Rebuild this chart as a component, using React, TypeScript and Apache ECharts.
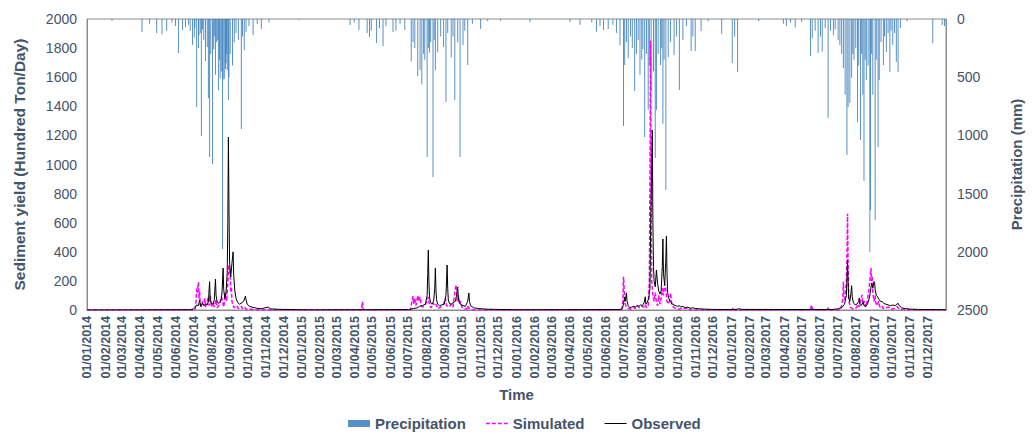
import React, { useEffect, useRef } from "react";
import * as echarts from "echarts";

// ---------- DATA ----------
const FIRST_DAY = "2014-01-01";
const LAST_DAY = "2017-12-31";

const SERIES_NAMES = ["Precipitation", "Simulated", "Observed"];
const LEFT_AXIS = { min: 0, max: 2000, interval: 200 };
const RIGHT_AXIS = { min: 0, max: 2500, interval: 500 };

// Daily precipitation (mm), days not listed are dry
const precip2014: [string, number][] = [
  ["2014-02-12", 15], ["2014-04-04", 112], ["2014-04-17", 40], ["2014-04-29", 120],
  ["2014-05-08", 130], ["2014-05-16", 100], ["2014-05-25", 30], ["2014-05-31", 60],
  ["2014-06-05", 292], ["2014-06-12", 95], ["2014-06-17", 70], ["2014-06-22", 50],
  ["2014-06-25", 100], ["2014-06-29", 223], ["2014-07-02", 160], ["2014-07-03", 80],
  ["2014-07-06", 756], ["2014-07-09", 250], ["2014-07-10", 140], ["2014-07-13", 120],
  ["2014-07-14", 1005], ["2014-07-16", 90], ["2014-07-18", 180], ["2014-07-21", 360],
  ["2014-07-24", 240], ["2014-07-26", 680], ["2014-07-28", 1185], ["2014-07-30", 300],
  ["2014-08-02", 1246], ["2014-08-04", 260], ["2014-08-05", 150], ["2014-08-07", 480],
  ["2014-08-09", 200], ["2014-08-11", 180], ["2014-08-12", 610], ["2014-08-14", 350],
  ["2014-08-15", 510], ["2014-08-17", 450], ["2014-08-19", 1976], ["2014-08-20", 520],
  ["2014-08-22", 515], ["2014-08-24", 430], ["2014-08-25", 380], ["2014-08-26", 300],
  ["2014-08-27", 440], ["2014-08-29", 696], ["2014-08-30", 500], ["2014-09-01", 300],
  ["2014-09-05", 400], ["2014-09-08", 200], ["2014-09-11", 120], ["2014-09-15", 180],
  ["2014-09-20", 945], ["2014-09-22", 150], ["2014-09-25", 266], ["2014-09-28", 110],
  ["2014-10-03", 60], ["2014-10-10", 137], ["2014-10-17", 40], ["2014-10-24", 86],
  ["2014-11-06", 30], ["2014-12-27", 10],
];

const precip2015: [string, number][] = [
  ["2015-03-24", 52], ["2015-03-31", 30], ["2015-04-08", 95], ["2015-04-22", 120],
  ["2015-04-26", 155], ["2015-04-29", 100], ["2015-05-08", 206], ["2015-05-13", 80],
  ["2015-05-19", 232], ["2015-05-24", 60], ["2015-06-05", 112], ["2015-06-10", 100],
  ["2015-06-17", 40], ["2015-06-25", 95], ["2015-07-06", 362], ["2015-07-09", 200],
  ["2015-07-12", 250], ["2015-07-17", 490], ["2015-07-21", 438], ["2015-07-24", 560],
  ["2015-07-27", 300], ["2015-07-29", 350], ["2015-08-02", 1185], ["2015-08-04", 250],
  ["2015-08-06", 290], ["2015-08-08", 200], ["2015-08-12", 1357], ["2015-08-14", 180],
  ["2015-08-16", 440], ["2015-08-20", 285], ["2015-08-25", 150], ["2015-08-30", 240],
  ["2015-09-03", 713], ["2015-09-06", 120], ["2015-09-12", 330], ["2015-09-15", 150],
  ["2015-09-18", 696], ["2015-09-23", 200], ["2015-09-27", 1185], ["2015-10-02", 223],
  ["2015-10-05", 100], ["2015-10-10", 395], ["2015-10-18", 40], ["2015-11-01", 86],
  ["2015-11-13", 20], ["2015-12-05", 15],
];

const precip2016: [string, number][] = [
  ["2016-01-24", 26], ["2016-04-01", 25], ["2016-04-18", 50], ["2016-05-08", 30],
  ["2016-05-16", 110], ["2016-05-22", 60], ["2016-05-28", 95], ["2016-06-05", 86],
  ["2016-06-13", 50], ["2016-06-19", 120], ["2016-06-25", 225], ["2016-07-01", 919],
  ["2016-07-03", 395], ["2016-07-06", 200], ["2016-07-09", 335], ["2016-07-13", 150],
  ["2016-07-16", 250], ["2016-07-20", 618], ["2016-07-23", 300], ["2016-07-26", 180],
  ["2016-07-29", 480], ["2016-08-01", 350], ["2016-08-03", 260], ["2016-08-06", 1014],
  ["2016-08-09", 300], ["2016-08-12", 782], ["2016-08-14", 400], ["2016-08-17", 610],
  ["2016-08-21", 450], ["2016-08-24", 1194], ["2016-08-26", 782], ["2016-08-29", 300],
  ["2016-09-02", 395], ["2016-09-04", 250], ["2016-09-06", 900], ["2016-09-08", 350],
  ["2016-09-11", 1470], ["2016-09-15", 326], ["2016-09-19", 200], ["2016-09-25", 309],
  ["2016-09-29", 150], ["2016-10-04", 610], ["2016-10-10", 180], ["2016-10-16", 60],
  ["2016-10-24", 275], ["2016-10-27", 150], ["2016-10-31", 275], ["2016-11-10", 103],
  ["2016-11-22", 20], ["2016-12-15", 126],
];

const precip2017: [string, number][] = [
  ["2017-01-02", 378], ["2017-01-06", 150], ["2017-01-11", 455], ["2017-02-16", 20],
  ["2017-03-30", 40], ["2017-04-04", 60], ["2017-04-11", 30], ["2017-04-19", 70],
  ["2017-04-30", 25], ["2017-05-15", 318], ["2017-05-18", 165], ["2017-05-23", 100],
  ["2017-05-28", 292], ["2017-06-01", 150], ["2017-06-04", 280], ["2017-06-09", 80],
  ["2017-06-14", 848], ["2017-06-18", 100], ["2017-06-23", 140], ["2017-06-26", 90],
  ["2017-07-01", 180], ["2017-07-04", 225], ["2017-07-07", 300], ["2017-07-10", 420],
  ["2017-07-13", 650], ["2017-07-16", 1168], ["2017-07-18", 756], ["2017-07-21", 720],
  ["2017-07-24", 505], ["2017-07-26", 300], ["2017-07-28", 350], ["2017-07-31", 250],
  ["2017-08-03", 885], ["2017-08-05", 400], ["2017-08-08", 1040], ["2017-08-10", 300],
  ["2017-08-12", 650], ["2017-08-14", 1390], ["2017-08-16", 350], ["2017-08-18", 525],
  ["2017-08-21", 400], ["2017-08-24", 2000], ["2017-08-25", 1640], ["2017-08-27", 300],
  ["2017-08-29", 650], ["2017-09-02", 1727], ["2017-09-04", 350], ["2017-09-07", 1100],
  ["2017-09-09", 525], ["2017-09-12", 200], ["2017-09-16", 395], ["2017-09-18", 150],
  ["2017-09-21", 283], ["2017-09-24", 120], ["2017-09-27", 455], ["2017-09-29", 100],
  ["2017-10-02", 223], ["2017-10-05", 120], ["2017-10-08", 370], ["2017-10-11", 455],
  ["2017-10-15", 77], ["2017-10-26", 20], ["2017-12-09", 206], ["2017-12-25", 52],
  ["2017-12-29", 60],
];

// Sediment yield (hundred ton/day), observed
const observed2014: [string, number][] = [
  ["2014-01-01", 0], ["2014-06-25", 2], ["2014-07-01", 8], ["2014-07-04", 20], ["2014-07-06", 35],
  ["2014-07-09", 30], ["2014-07-11", 68], ["2014-07-13", 25], ["2014-07-16", 45], ["2014-07-19", 30],
  ["2014-07-22", 40], ["2014-07-24", 35], ["2014-07-26", 60], ["2014-07-28", 195], ["2014-07-29", 80],
  ["2014-07-31", 45], ["2014-08-03", 40], ["2014-08-05", 70], ["2014-08-07", 212], ["2014-08-08", 100],
  ["2014-08-10", 55], ["2014-08-13", 45], ["2014-08-16", 60], ["2014-08-18", 110], ["2014-08-20", 288],
  ["2014-08-21", 140], ["2014-08-23", 80], ["2014-08-25", 120], ["2014-08-27", 260], ["2014-08-28", 600],
  ["2014-08-29", 1189], ["2014-08-30", 700], ["2014-08-31", 330], ["2014-09-02", 227], ["2014-09-04", 320],
  ["2014-09-06", 400], ["2014-09-07", 240], ["2014-09-09", 130], ["2014-09-11", 80], ["2014-09-14", 50],
  ["2014-09-17", 40], ["2014-09-21", 50], ["2014-09-24", 60], ["2014-09-27", 96], ["2014-09-28", 70],
  ["2014-09-30", 40], ["2014-10-04", 25], ["2014-10-10", 18], ["2014-10-16", 12], ["2014-10-24", 9],
  ["2014-11-05", 20], ["2014-11-08", 8], ["2014-11-20", 5], ["2014-12-15", 3], ["2015-01-15", 1],
];

const observed2015: [string, number][] = [
  ["2015-07-01", 3], ["2015-07-10", 10], ["2015-07-16", 15], ["2015-07-20", 25], ["2015-07-25", 30],
  ["2015-07-30", 40], ["2015-08-02", 100], ["2015-08-03", 250], ["2015-08-04", 412], ["2015-08-05", 200],
  ["2015-08-06", 90], ["2015-08-08", 50], ["2015-08-10", 40], ["2015-08-13", 60], ["2015-08-15", 150],
  ["2015-08-16", 289], ["2015-08-17", 140], ["2015-08-18", 70], ["2015-08-20", 40], ["2015-08-23", 30],
  ["2015-08-27", 35], ["2015-08-31", 40], ["2015-09-03", 100], ["2015-09-04", 200], ["2015-09-05", 309],
  ["2015-09-06", 150], ["2015-09-07", 70], ["2015-09-09", 45], ["2015-09-12", 40], ["2015-09-15", 50],
  ["2015-09-19", 60], ["2015-09-21", 100], ["2015-09-23", 158], ["2015-09-24", 90], ["2015-09-26", 50],
  ["2015-09-29", 35], ["2015-10-02", 30], ["2015-10-06", 25], ["2015-10-10", 60], ["2015-10-12", 117],
  ["2015-10-13", 60], ["2015-10-15", 30], ["2015-10-20", 15], ["2015-10-28", 10], ["2015-11-10", 6],
  ["2015-11-30", 4], ["2015-12-31", 2],
];

const observed2016: [string, number][] = [
  ["2016-06-25", 3], ["2016-06-29", 10], ["2016-07-01", 40], ["2016-07-03", 90], ["2016-07-04", 60],
  ["2016-07-06", 117], ["2016-07-07", 60], ["2016-07-09", 30], ["2016-07-12", 15], ["2016-07-15", 20],
  ["2016-07-18", 25], ["2016-07-21", 20], ["2016-07-24", 30], ["2016-07-27", 25], ["2016-07-30", 35],
  ["2016-08-02", 30], ["2016-08-05", 50], ["2016-08-07", 91], ["2016-08-08", 40], ["2016-08-10", 50],
  ["2016-08-13", 80], ["2016-08-15", 150], ["2016-08-16", 500], ["2016-08-17", 750], ["2016-08-18", 1000],
  ["2016-08-19", 1237], ["2016-08-20", 600], ["2016-08-21", 300], ["2016-08-22", 200], ["2016-08-24", 160],
  ["2016-08-26", 275], ["2016-08-28", 180], ["2016-08-30", 130], ["2016-09-01", 110], ["2016-09-03", 130],
  ["2016-09-05", 300], ["2016-09-06", 488], ["2016-09-07", 250], ["2016-09-09", 170], ["2016-09-11", 350],
  ["2016-09-12", 509], ["2016-09-13", 250], ["2016-09-14", 120], ["2016-09-16", 80], ["2016-09-19", 60],
  ["2016-09-22", 40], ["2016-09-25", 35], ["2016-09-28", 30], ["2016-10-01", 25], ["2016-10-04", 30],
  ["2016-10-06", 20], ["2016-10-10", 25], ["2016-10-14", 15], ["2016-10-18", 20], ["2016-10-22", 12],
  ["2016-10-27", 15], ["2016-11-01", 10], ["2016-11-08", 8], ["2016-11-15", 6], ["2016-12-01", 4],
  ["2016-12-31", 3],
];

const observed2017: [string, number][] = [
  ["2017-01-10", 5], ["2017-01-12", 8], ["2017-01-20", 4], ["2017-06-20", 3], ["2017-07-01", 8],
  ["2017-07-08", 20], ["2017-07-12", 40], ["2017-07-15", 100], ["2017-07-16", 200], ["2017-07-17", 344],
  ["2017-07-18", 200], ["2017-07-19", 80], ["2017-07-21", 60], ["2017-07-23", 120], ["2017-07-24", 167],
  ["2017-07-25", 90], ["2017-07-27", 50], ["2017-07-30", 35], ["2017-08-02", 40], ["2017-08-05", 60],
  ["2017-08-06", 82], ["2017-08-07", 40], ["2017-08-09", 30], ["2017-08-12", 50], ["2017-08-13", 57],
  ["2017-08-14", 30], ["2017-08-17", 25], ["2017-08-20", 40], ["2017-08-23", 80], ["2017-08-25", 130],
  ["2017-08-27", 185], ["2017-08-29", 150], ["2017-08-31", 196], ["2017-09-01", 190], ["2017-09-02", 140],
  ["2017-09-04", 100], ["2017-09-06", 91], ["2017-09-08", 75], ["2017-09-11", 60], ["2017-09-14", 57],
  ["2017-09-17", 45], ["2017-09-20", 40], ["2017-09-24", 35], ["2017-09-28", 30], ["2017-10-02", 34],
  ["2017-10-06", 30], ["2017-10-09", 40], ["2017-10-11", 46], ["2017-10-13", 30], ["2017-10-17", 15],
  ["2017-10-23", 10], ["2017-11-01", 6], ["2017-11-15", 4], ["2017-12-01", 3], ["2017-12-31", 2],
];

// Sediment yield (hundred ton/day), simulated
const simulated2014: [string, number][] = [
  ["2014-01-01", 0], ["2014-07-03", 0], ["2014-07-05", 60], ["2014-07-06", 150], ["2014-07-07", 120],
  ["2014-07-09", 190], ["2014-07-10", 80], ["2014-07-11", 130], ["2014-07-12", 40], ["2014-07-14", 20],
  ["2014-07-16", 60], ["2014-07-18", 30], ["2014-07-20", 80], ["2014-07-21", 20], ["2014-07-24", 60],
  ["2014-07-26", 90], ["2014-07-27", 30], ["2014-07-29", 100], ["2014-07-31", 20], ["2014-08-03", 50],
  ["2014-08-05", 20], ["2014-08-08", 70], ["2014-08-10", 15], ["2014-08-14", 40], ["2014-08-17", 90],
  ["2014-08-19", 60], ["2014-08-21", 20], ["2014-08-24", 120], ["2014-08-26", 60], ["2014-08-28", 180],
  ["2014-08-30", 310], ["2014-08-31", 250], ["2014-09-01", 280], ["2014-09-02", 120], ["2014-09-03", 160],
  ["2014-09-04", 60], ["2014-09-06", 30], ["2014-09-08", 15], ["2014-09-12", 30], ["2014-09-15", 10],
  ["2014-09-20", 25], ["2014-09-22", 10], ["2014-09-26", 20], ["2014-09-28", 5], ["2014-10-03", 8],
  ["2014-10-10", 3], ["2014-10-20", 0],
];

const simulated2015: [string, number][] = [
  ["2015-04-12", 0], ["2015-04-13", 25], ["2015-04-14", 57], ["2015-04-15", 10], ["2015-04-16", 0],
  ["2015-07-05", 0], ["2015-07-07", 60], ["2015-07-09", 95], ["2015-07-10", 40], ["2015-07-12", 80],
  ["2015-07-14", 30], ["2015-07-17", 100], ["2015-07-19", 60], ["2015-07-21", 90], ["2015-07-23", 30],
  ["2015-07-26", 20], ["2015-07-30", 40], ["2015-08-02", 60], ["2015-08-04", 90], ["2015-08-06", 30],
  ["2015-08-09", 15], ["2015-08-12", 50], ["2015-08-15", 30], ["2015-08-17", 40], ["2015-08-20", 10],
  ["2015-08-25", 20], ["2015-08-30", 40], ["2015-09-02", 80], ["2015-09-04", 30], ["2015-09-08", 20],
  ["2015-09-12", 40], ["2015-09-15", 20], ["2015-09-18", 120], ["2015-09-20", 172], ["2015-09-21", 150],
  ["2015-09-22", 60], ["2015-09-24", 100], ["2015-09-26", 40], ["2015-09-28", 60], ["2015-09-30", 20],
  ["2015-10-03", 10], ["2015-10-08", 5], ["2015-10-10", 30], ["2015-10-12", 10], ["2015-10-20", 0],
];

const simulated2016: [string, number][] = [
  ["2016-06-28", 0], ["2016-06-30", 60], ["2016-07-01", 229], ["2016-07-02", 150], ["2016-07-03", 80],
  ["2016-07-04", 40], ["2016-07-06", 20], ["2016-07-09", 10], ["2016-07-13", 5], ["2016-07-18", 20],
  ["2016-07-21", 10], ["2016-07-25", 30], ["2016-07-28", 15], ["2016-08-01", 25], ["2016-08-04", 20],
  ["2016-08-07", 40], ["2016-08-09", 15], ["2016-08-12", 30], ["2016-08-14", 200], ["2016-08-15", 900],
  ["2016-08-16", 1850], ["2016-08-17", 600], ["2016-08-18", 200], ["2016-08-20", 100], ["2016-08-22", 60],
  ["2016-08-24", 120], ["2016-08-26", 50], ["2016-08-28", 30], ["2016-08-30", 100], ["2016-09-01", 40],
  ["2016-09-03", 80], ["2016-09-05", 150], ["2016-09-07", 100], ["2016-09-09", 180], ["2016-09-11", 137],
  ["2016-09-13", 60], ["2016-09-15", 40], ["2016-09-17", 60], ["2016-09-19", 117], ["2016-09-21", 40],
  ["2016-09-24", 20], ["2016-09-28", 10], ["2016-10-03", 5], ["2016-10-10", 10], ["2016-10-20", 15],
  ["2016-10-22", 0],
];

const simulated2017: [string, number][] = [
  ["2017-01-02", 0], ["2017-01-03", 15], ["2017-01-04", 0], ["2017-05-15", 0], ["2017-05-16", 20],
  ["2017-05-17", 34], ["2017-05-18", 10], ["2017-05-19", 0], ["2017-06-13", 0], ["2017-06-14", 15],
  ["2017-06-15", 0], ["2017-07-05", 0], ["2017-07-07", 30], ["2017-07-09", 80], ["2017-07-10", 195],
  ["2017-07-11", 100], ["2017-07-13", 60], ["2017-07-15", 200], ["2017-07-16", 350], ["2017-07-17", 662],
  ["2017-07-18", 300], ["2017-07-19", 100], ["2017-07-20", 50], ["2017-07-22", 20], ["2017-07-25", 10],
  ["2017-07-28", 5], ["2017-08-01", 15], ["2017-08-04", 40], ["2017-08-06", 20], ["2017-08-09", 80],
  ["2017-08-11", 103], ["2017-08-12", 40], ["2017-08-15", 60], ["2017-08-17", 20], ["2017-08-20", 70],
  ["2017-08-22", 130], ["2017-08-24", 200], ["2017-08-26", 288], ["2017-08-27", 200], ["2017-08-28", 229],
  ["2017-08-29", 120], ["2017-08-31", 60], ["2017-09-02", 100], ["2017-09-03", 50], ["2017-09-05", 30],
  ["2017-09-08", 60], ["2017-09-10", 20], ["2017-09-13", 30], ["2017-09-16", 10], ["2017-09-20", 15],
  ["2017-09-25", 20], ["2017-09-29", 5], ["2017-10-05", 10], ["2017-10-09", 25], ["2017-10-11", 15],
  ["2017-10-15", 5], ["2017-10-25", 0], ["2017-12-31", 0],
];

// ---------- HELPERS ----------
function fmt(iso: string): string {
  const [y, m, d] = iso.split("-");
  return `${d}/${m}/${y}`;
}

function buildDays(first: string, last: string): string[] {
  const out: string[] = [];
  const [y0, m0, d0] = first.split("-").map(Number);
  const [y1, m1, d1] = last.split("-").map(Number);
  const end = Date.UTC(y1, m1 - 1, d1);
  for (let t = Date.UTC(y0, m0 - 1, d0); t <= end; t += 86400000) {
    const dt = new Date(t);
    const dd = String(dt.getUTCDate()).padStart(2, "0");
    const mm = String(dt.getUTCMonth() + 1).padStart(2, "0");
    out.push(`${dd}/${mm}/${dt.getUTCFullYear()}`);
  }
  return out;
}

const toPairs = (arr: [string, number][]) => arr.map(([d, v]) => [fmt(d), v]);

const FONT = "'Liberation Sans', Arial, sans-serif";
const TEXT_COLOR = "#44546A";
const AXIS_COLOR = "#8C8C8C";

const DASH_ICON = "path://M0,0h4v1.6h-4zM6,0h4v1.6h-4zM12,0h4v1.6h-4zM18,0h4v1.6h-4z";
const SOLID_ICON = "path://M0,0h22v1h-22z";

export default function App() {
  const ref = useRef<HTMLDivElement>(null);

  useEffect(() => {
    if (!ref.current) return;
    const chart = echarts.init(ref.current, undefined, { renderer: "svg" });
    const days = buildDays(FIRST_DAY, LAST_DAY);
    const precip = toPairs([...precip2014, ...precip2015, ...precip2016, ...precip2017]);
    const observed = toPairs([...observed2014, ...observed2015, ...observed2016, ...observed2017]);
    const simulated = toPairs([...simulated2014, ...simulated2015, ...simulated2016, ...simulated2017]);

    chart.setOption({
      animation: false,
      backgroundColor: "#ffffff",
      textStyle: { fontFamily: FONT },
      grid: {
        left: 87,
        right: 80,
        top: 19,
        bottom: 124,
        show: true,
        borderColor: AXIS_COLOR,
        borderWidth: 1,
        containLabel: false,
      },
      legend: {
        left: 343,
        top: 411,
        itemWidth: 22,
        itemHeight: 7,
        itemGap: 20,
        textStyle: { fontFamily: FONT, fontSize: 15, fontWeight: "bold", color: TEXT_COLOR },
        data: [
          { name: SERIES_NAMES[0], icon: "rect" },
          { name: SERIES_NAMES[1], icon: DASH_ICON },
          { name: SERIES_NAMES[2], icon: SOLID_ICON },
        ],
      },
      xAxis: {
        type: "category",
        data: days,
        boundaryGap: true,
        name: "Time",
        nameLocation: "middle",
        nameGap: 77,
        nameTextStyle: { fontFamily: FONT, fontSize: 15, fontWeight: "bold", color: TEXT_COLOR },
        axisLine: { show: true, lineStyle: { color: AXIS_COLOR, width: 1 } },
        axisTick: { show: false },
        axisLabel: {
          interval: (_i: number, v: string) => v.startsWith("01/"),
          rotate: 90,
          margin: 6,
          fontFamily: FONT,
          fontSize: 12.5,
          fontWeight: "bold",
          color: TEXT_COLOR,
        },
        splitLine: { show: false },
      },
      yAxis: [
        {
          type: "value",
          position: "left",
          min: LEFT_AXIS.min,
          max: LEFT_AXIS.max,
          interval: LEFT_AXIS.interval,
          name: "Sediment yield (Hundred Ton/Day)",
          nameLocation: "middle",
          nameGap: 60,
          nameTextStyle: { fontFamily: FONT, fontSize: 15.5, fontWeight: "bold", color: TEXT_COLOR },
          axisLine: { show: true, lineStyle: { color: AXIS_COLOR, width: 1 } },
          axisTick: { show: false },
          axisLabel: {
            fontFamily: FONT,
            fontSize: 14,
            color: TEXT_COLOR,
            margin: 10,
            formatter: (v: number) => String(v),
          },
          splitLine: { show: false },
        },
        {
          type: "value",
          position: "right",
          inverse: true,
          min: RIGHT_AXIS.min,
          max: RIGHT_AXIS.max,
          interval: RIGHT_AXIS.interval,
          name: "Precipitation (mm)",
          nameLocation: "middle",
          nameRotate: 90,
          nameGap: 63,
          nameTextStyle: { fontFamily: FONT, fontSize: 15, fontWeight: "bold", color: TEXT_COLOR },
          axisLine: { show: true, lineStyle: { color: AXIS_COLOR, width: 1 } },
          axisTick: { show: false },
          axisLabel: {
            fontFamily: FONT,
            fontSize: 14,
            color: TEXT_COLOR,
            margin: 11,
            formatter: (v: number) => String(v),
          },
          splitLine: { show: false },
        },
      ],
      series: [
        {
          name: SERIES_NAMES[0],
          type: "bar",
          yAxisIndex: 1,
          data: precip,
          barWidth: 1,
          itemStyle: { color: "#2E75B6", opacity: 0.8 },
          z: 1,
        },
        {
          name: SERIES_NAMES[1],
          type: "line",
          yAxisIndex: 0,
          data: simulated,
          symbol: "none",
          lineStyle: { color: "#FF00FF", width: 1.5, type: [4, 2] },
          itemStyle: { color: "#FF00FF" },
          z: 2,
        },
        {
          name: SERIES_NAMES[2],
          type: "line",
          yAxisIndex: 0,
          data: observed,
          symbol: "none",
          lineStyle: { color: "#000000", width: 1 },
          itemStyle: { color: "#000000" },
          z: 3,
        },
      ],
    });

    return () => chart.dispose();
  }, []);

  return (
    <div
      ref={ref}
      style={{ position: "fixed", left: 0, top: 0, width: 1032, height: 434, background: "#fff" }}
    />
  );
}
